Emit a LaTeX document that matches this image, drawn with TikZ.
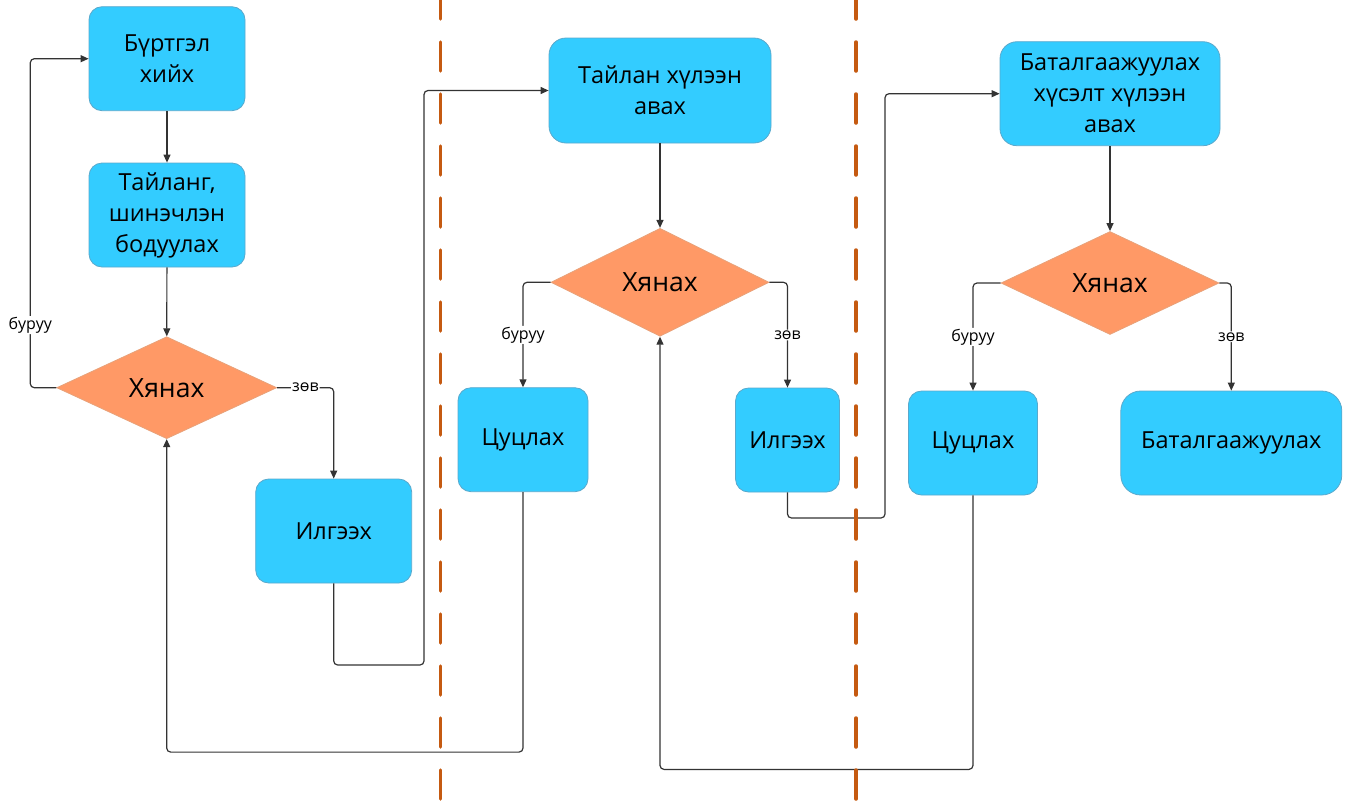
\documentclass[tikz,border=0pt]{standalone}
\usepackage{fontspec}
\setmainfont{Open Sans}
\usetikzlibrary{shapes.geometric,arrows.meta}
\definecolor{boxblue}{HTML}{33CCFF}
\definecolor{boxedge}{HTML}{5AA9CC}
\definecolor{checkfill}{HTML}{FF9966}
\definecolor{checkedge}{HTML}{E8A27A}
\definecolor{laneorange}{HTML}{C55A11}
\definecolor{flowgray}{HTML}{333333}
\tikzset{
  every picture/.style={font={\fontsize{23.5}{31}\selectfont}, >={Triangle[length=8pt,width=7pt]}},
  every label/.style={black}}

\begin{document}
\begin{tikzpicture}[x=1pt, y=-1pt,
    process/.style={
      draw=boxedge,
      line width=0.8pt,
      fill=boxblue,
      rounded corners=13pt,
      align=center,
      inner sep=0pt},
    decision/.style={
      diamond,
      draw=checkedge,
      line width=0.8pt,
      fill=checkfill,
      aspect=2,
      inner sep=0pt,
      font={\fontsize{26.5}{32}\selectfont}},
    flow/.style={->, draw=flowgray, line width=1.2pt, rounded corners=4pt},
    lbl/.style={fill=white, inner sep=1pt, font={\fontsize{16}{18}\selectfont}},
    lane/.style={draw=laneorange, line width=3.5pt, line cap=round,
      dash pattern=on 29pt off 23pt}]

    \useasboundingbox (0,0) rectangle (1349,801);

    % first lane
    \node[process, minimum width=156, minimum height=104] (REG) at (167,58.7) {Бүртгэл\\хийх};
    \node[process, minimum width=156, minimum height=104] (UPD) at (167,215) {Тайланг,\\шинэчлэн\\бодуулах};
    \node[decision, minimum width=220, minimum height=102] (CHK1) at (166.7,387.7) {Хянах};
    \node[process, minimum width=156, minimum height=104] (SND1) at (333.7,531) {Илгээх};

    % second lane
    \node[process, minimum width=222, minimum height=105, rounded corners=17pt] (RCV) at (660,90.5) {Тайлан хүлээн\\авах};
    \node[decision, minimum width=218, minimum height=108] (CHK2) at (660,282.3) {Хянах};
    \node[process, minimum width=130, minimum height=104] (CNL1) at (523,439.7) {Цуцлах};
    \node[process, minimum width=104, minimum height=104] (SND2) at (787.5,440) {Илгээх};

    % third lane
    \node[process, minimum width=220, minimum height=104, rounded corners=17pt] (REQ) at (1110,93.7) {Баталгаажуулах\\хүсэлт хүлээн\\авах};
    \node[decision, minimum width=218, minimum height=103] (CHK3) at (1110,283) {Хянах};
    \node[process, minimum width=129, minimum height=104] (CNL2) at (973,443) {Цуцлах};
    \node[process, minimum width=221, minimum height=104, rounded corners=20pt] (CNF) at (1231.3,443) {Баталгаажуулах};

    \coordinate (J1) at (424,665);
    \coordinate (J2) at (885,518);

    \draw[flow] (REG) -- (UPD);
    \draw[flow] (UPD) -- (CHK1);
    \draw[flow] (CHK1.west) -- ++(-26,0) |- node[lbl, pos=0.095] (no1) {буруу} (REG.west);
    \draw[flow] (CHK1.east) -| node[lbl, pos=0.25] (yes1) {зөв} (SND1.north);
    \draw[flow] (SND1.south) |- (J1) |- (RCV.west);

    \draw[flow] (RCV) -- (CHK2);
    \draw[flow] (CHK2.west) -| node[lbl, pos=0.75] (no2) {буруу} (CNL1.north);
    \draw[flow] (CHK2.east) -| node[lbl, pos=0.75] (yes2) {зөв} (SND2.north);
    \draw[flow] (CNL1.south) -- ++(0,260) -| (CHK1.south);
    \draw[flow] (SND2.south) |- (J2) |- (REQ.west);

    \draw[flow] (REQ) -- (CHK3);
    \draw[flow] (CHK3.west) -| node[lbl, pos=0.75] (no3) {буруу} (CNL2.north);
    \draw[flow] (CHK3.east) -| node[lbl, pos=0.75] (yes3) {зөв} (CNF.north);
    \draw[flow] (CNL2.south) -- ++(0,274) -| (CHK2.south);

    % lane borders
    \draw[lane] (440.7,-10) -- (440.7,801);
    \draw[lane] (856,-10) -- (856,801);
\end{tikzpicture}
\end{document}
